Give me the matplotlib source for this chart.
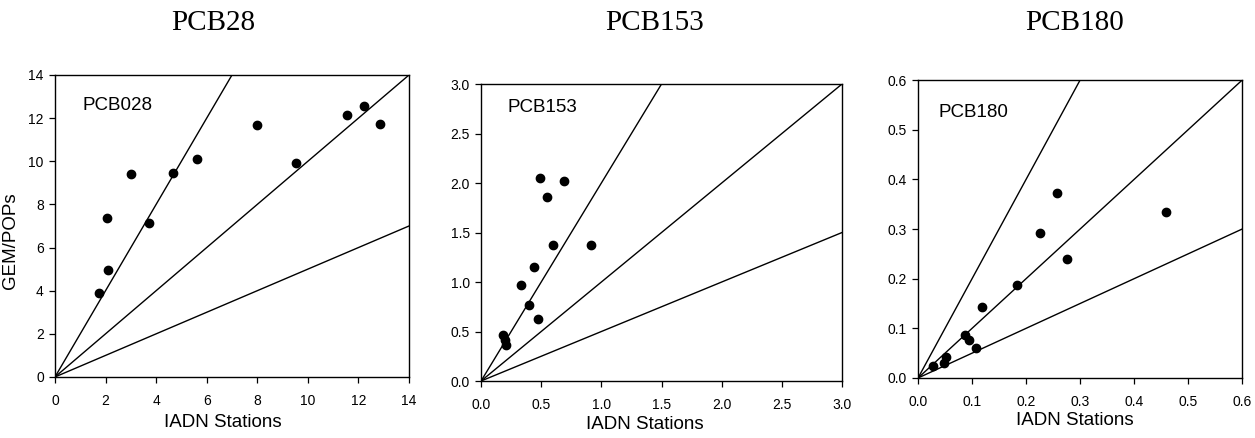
import numpy as np
import matplotlib.pyplot as plt

plt.rcParams['font.family'] = ['Liberation Sans', 'DejaVu Sans']

# PCB28
pcb28_x = [1.75, 2.11, 2.05, 3.02, 3.70, 4.68, 5.60, 7.98, 9.55, 11.54, 12.24, 12.87]
pcb28_y = [3.91, 4.98, 7.36, 9.41, 7.12, 9.44, 10.12, 11.70, 9.93, 12.13, 12.56, 11.71]
# PCB153
pcb153_x = [0.49, 0.69, 0.55, 0.60, 0.91, 0.44, 0.33, 0.40, 0.47, 0.185, 0.20, 0.21]
pcb153_y = [2.05, 2.02, 1.86, 1.37, 1.37, 1.15, 0.97, 0.77, 0.63, 0.465, 0.41, 0.36]
# PCB180
pcb180_x = [0.257, 0.460, 0.226, 0.276, 0.184, 0.118, 0.087, 0.095, 0.108, 0.051, 0.049, 0.027]
pcb180_y = [0.373, 0.335, 0.292, 0.239, 0.188, 0.143, 0.086, 0.077, 0.060, 0.042, 0.031, 0.025]

titles = ["PCB28", "PCB153", "PCB180"]
inner_labels = ["PCB028", "PCB153", "PCB180"]
limits = [14, 3.0, 0.6]
steps = [2, 0.5, 0.1]
slopes = [2.0, 1.0, 0.5]

fig = plt.figure(figsize=(12.55, 4.38), dpi=100)
rects = [[0.0438, 0.1393, 0.2821, 0.6895],
         [0.3833, 0.1301, 0.2876, 0.6780],
         [0.7315, 0.1370, 0.2582, 0.6800]]
title_x = [213 / 1255, 655 / 1255, 1075 / 1255]
label_pos = [(1.1, 12.6), (0.216, 2.76), (0.037, 0.534)]
xlabel_pos = [(0.475, -0.152), (0.454, -0.146), (0.483, -0.144)]
data = [(pcb28_x, pcb28_y), (pcb153_x, pcb153_y), (pcb180_x, pcb180_y)]

for i in range(3):
    ax = fig.add_axes(rects[i])
    lim = limits[i]
    xs = np.array([0, lim])
    for s in slopes:
        ax.plot(xs, s * xs, color='black', lw=1.0)
    ax.plot(data[i][0], data[i][1], 'o', color='black', ms=6, clip_on=False)
    ax.set_xlim(0, lim)
    ax.set_ylim(0, lim)
    ticks = np.arange(0, lim + steps[i] / 2, steps[i])
    ax.set_xticks(ticks)
    ax.set_yticks(ticks)
    if i == 0:
        ax.set_xticklabels([f"{t:.0f}" for t in ticks])
        ax.set_yticklabels([f"{t:.0f}" for t in ticks])
        ax.set_ylabel("GEM/POPs", fontsize=13.5, va='center')
        ax.yaxis.set_label_coords(-0.127, 0.45)
    else:
        ax.set_xticklabels([f"{t:.1f}" for t in ticks])
        ax.set_yticklabels([f"{t:.1f}" for t in ticks])
    ax.tick_params(direction='out', length=4, width=0.9, labelsize=10)
    ax.tick_params(axis='x', pad=8)
    ax.tick_params(axis='y', pad=4)
    ax.set_xlabel("IADN Stations", fontsize=13.5, va='center')
    ax.xaxis.set_label_coords(*xlabel_pos[i])
    for sp in ax.spines.values():
        sp.set_linewidth(1.0)
    ax.text(label_pos[i][0], label_pos[i][1], inner_labels[i], fontsize=13.5, va='center', ha='left')
    fig.text(title_x[i], 1 - 23 / 438, titles[i], fontsize=21, family='Liberation Serif',
             ha='center', va='center')

plt.savefig('out.png')
